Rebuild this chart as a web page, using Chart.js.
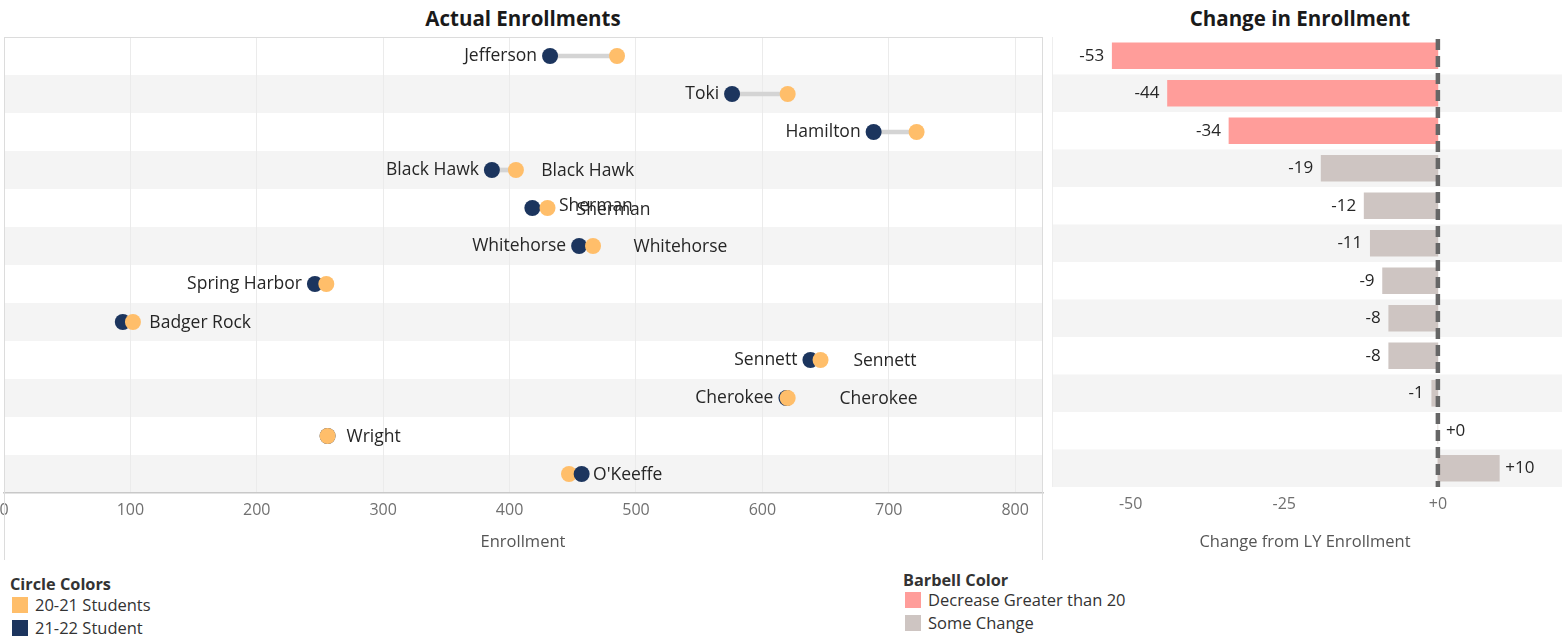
<!DOCTYPE html>
<html>
<head>
<meta charset="utf-8">
<script src="https://cdn.jsdelivr.net/npm/chart.js@4.4.1/dist/chart.umd.min.js"></script>
<style>
	body { margin: 0; background: #fff; font-family: 'Open Sans', sans-serif; color: #262626; }
	#wrap { position: relative; width: 1562px; height: 639px; overflow: hidden; }
	canvas { position: absolute; }
	.txt { position: absolute; white-space: nowrap; line-height: 1; transform: translateY(-50%); }
	.ctr { transform: translate(-50%, -50%); }
	.title { font-weight: bold; font-size: 20.5px; color: #1a1a1a; }
	.axis { font-size: 16.5px; color: #555; }
	.lg-title { font-weight: bold; font-size: 16.3px; color: #333; }
	.lg-item { font-size: 16.5px; color: #333; }
	.sw { position: absolute; width: 16px; height: 16px; }
	#frame { position: absolute; left: 4px; top: 37px; width: 1039px; height: 523px;
		border: 1.5px solid #dcdcdc; border-bottom: none; box-sizing: border-box; pointer-events: none; }
</style>
</head>
<body>
<div id="wrap">
	<div class="txt ctr title" style="left:523px;top:18px">Actual Enrollments</div>
	<div class="txt ctr title" style="left:1300px;top:18px">Change in Enrollment</div>

	<canvas id="dumbbell" width="1055" height="531" style="left:-4px;top:29px"></canvas>
	<div id="frame"></div>
	<canvas id="change" width="517" height="523" style="left:1045px;top:37px"></canvas>

	<div class="txt ctr axis" style="left:523px;top:541px">Enrollment</div>
	<div class="txt ctr axis" style="left:1305px;top:541px">Change from LY Enrollment</div>

	<div class="txt lg-title" style="left:10px;top:584px">Circle Colors</div>
	<div class="sw" style="left:12px;top:597px;background:#FFBE6A"></div>
	<div class="txt lg-item" style="left:35px;top:605px">20-21 Students</div>
	<div class="sw" style="left:12px;top:620px;background:#1C355E"></div>
	<div class="txt lg-item" style="left:35px;top:628px">21-22 Student</div>

	<div class="txt lg-title" style="left:903px;top:580px">Barbell Color</div>
	<div class="sw" style="left:905px;top:592px;background:#FF9D9A"></div>
	<div class="txt lg-item" style="left:928px;top:600px">Decrease Greater than 20</div>
	<div class="sw" style="left:905px;top:615px;background:#CEC5C2"></div>
	<div class="txt lg-item" style="left:928px;top:623px">Some Change</div>
</div>

<script>
const schools = [ 'Jefferson', 'Toki', 'Hamilton', 'Black Hawk', 'Sherman', 'Whitehorse',
	'Spring Harbor', 'Badger Rock', 'Sennett', 'Cherokee', 'Wright', "O'Keeffe" ];
const students2021 = [ 485, 620, 722, 405, 430, 466, 255, 102, 646, 620, 256, 447 ];
const students2122 = [ 432, 576, 688, 386, 418, 455, 246, 94, 638, 619, 256, 457 ];
const changeFromLY = [ -53, -44, -34, -19, -12, -11, -9, -8, -8, -1, 0, 10 ];

// Tableau put the school name left of the pair on some rows and a second copy further right
const nameOnLeft = [ true, true, true, true, false, true, true, false, true, true, false, false ];
const extraNameAt = [ [], [], [], [ 425 ], [ 439, 453 ], [ 498 ], [], [ 115 ], [ 672 ], [ 661 ], [ 271 ], [ 466 ] ];

const enrollTicks = [ 0, 100, 200, 300, 400, 500, 600, 700, 800 ];
const changeTicks = [ -50, -25, 0 ];

const ORANGE = '#FFBE6A';
const NAVY = '#1C355E';
const RED = '#FF9D9A';
const GREY = '#CEC5C2';
const BAND = '#F4F4F4';
const FONT = "'Open Sans', sans-serif";

Chart.defaults.font.family = FONT;
Chart.defaults.animation = false;

const rowBands = {
	id: 'rowBands',
	beforeDraw( chart ) {
		const { ctx, chartArea, scales } = chart;
		const y = scales.y;
		const half = ( chartArea.bottom - chartArea.top ) / schools.length / 2;
		ctx.save();
		ctx.fillStyle = BAND;
		schools.forEach( ( s, i ) => {
			if ( i % 2 === 1 ) {
				const cy = y.getPixelForValue( i );
				ctx.fillRect( chartArea.left, cy - half, chartArea.right - chartArea.left, half * 2 );
			}
		} );
		ctx.restore();
	},
};

const radius = 8;

const nameLabels = {
	id: 'nameLabels',
	afterDatasetsDraw( chart ) {
		const { ctx, scales } = chart;
		ctx.save();
		ctx.font = '17.5px ' + FONT;
		ctx.fillStyle = '#262626';
		ctx.textBaseline = 'middle';
		schools.forEach( ( name, i ) => {
			const cy = scales.y.getPixelForValue( i );
			if ( nameOnLeft[ i ] ) {
				const lo = Math.min( students2021[ i ], students2122[ i ] );
				ctx.textAlign = 'right';
				ctx.fillText( name, scales.x.getPixelForValue( lo ) - radius - 5, cy );
			}
			const twin = extraNameAt[ i ].length > 1;
			extraNameAt[ i ].forEach( ( v, k ) => {
				ctx.textAlign = 'left';
				const dy = twin ? ( k === 0 ? -2 : 2 ) : 1;
				ctx.fillText( name, scales.x.getPixelForValue( v ), cy + dy );
			} );
		} );
		ctx.restore();
	},
};

new Chart( document.getElementById( 'dumbbell' ), {
	type: 'bar',
	data: {
		labels: schools,
		datasets: [
			{
				data: schools.map( ( s, i ) => [ students2122[ i ], students2021[ i ] ] ),
				backgroundColor: '#D4D4D4',
				barThickness: 4,
				order: 4,
			},
			{
				type: 'line',
				indexAxis: 'y',
				showLine: false,
				data: students2122.map( ( v, i ) => ( v <= students2021[ i ] ? v : null ) ),
				pointRadius: radius,
				pointBackgroundColor: NAVY,
				pointBorderWidth: 0,
				order: 3,
			},
			{
				type: 'line',
				indexAxis: 'y',
				showLine: false,
				data: students2021,
				pointRadius: radius,
				pointBackgroundColor: ORANGE,
				pointBorderWidth: 0,
				order: 2,
			},
			{
				type: 'line',
				indexAxis: 'y',
				showLine: false,
				data: students2122.map( ( v, i ) => ( v > students2021[ i ] ? v : null ) ),
				pointRadius: radius,
				pointBackgroundColor: NAVY,
				pointBorderWidth: 0,
				order: 1,
			},
		],
	},
	options: {
		indexAxis: 'y',
		responsive: false,
		layout: { padding: { top: 8, left: 8, right: 8, bottom: 0 } },
		plugins: { legend: { display: false }, tooltip: { enabled: false } },
		scales: {
			y: { display: false },
			x: {
				min: 0,
				max: 822,
				afterBuildTicks: ( axis ) => {
					axis.ticks = enrollTicks.map( ( v ) => ( { value: v } ) );
				},
				afterFit: ( axis ) => {
					axis.height = 67;
					axis.paddingLeft = 0;
					axis.paddingRight = 0;
				},
				grid: { color: '#EBEBEB', drawTicks: false },
				border: { color: '#C8C8C8', width: 1.5 },
				ticks: { color: '#707070', font: { size: 16 }, padding: 8, maxRotation: 0 },
			},
		},
	},
	plugins: [ rowBands, nameLabels ],
} );

const zeroLine = {
	id: 'zeroLine',
	afterDatasetsDraw( chart ) {
		const { ctx, chartArea, scales } = chart;
		const x = scales.x.getPixelForValue( 0 );
		ctx.save();
		ctx.strokeStyle = '#666';
		ctx.lineWidth = 4.5;
		ctx.setLineDash( [ 11, 6 ] );
		ctx.beginPath();
		ctx.moveTo( x, chartArea.top + 2 );
		ctx.lineTo( x, chartArea.bottom );
		ctx.stroke();
		ctx.restore();
	},
};

const changeLabels = {
	id: 'changeLabels',
	afterDatasetsDraw( chart ) {
		const { ctx, scales } = chart;
		ctx.save();
		ctx.font = '17px ' + FONT;
		ctx.fillStyle = '#262626';
		ctx.textBaseline = 'middle';
		changeFromLY.forEach( ( v, i ) => {
			const cy = scales.y.getPixelForValue( i );
			const end = scales.x.getPixelForValue( v );
			if ( v < 0 ) {
				ctx.textAlign = 'right';
				ctx.fillText( String( v ), end - 8, cy );
			} else {
				ctx.textAlign = 'left';
				ctx.fillText( '+' + v, end + ( v === 0 ? 8 : 6 ), cy );
			}
		} );
		ctx.restore();
	},
};

const leftEdge = {
	id: 'leftEdge',
	beforeDraw( chart ) {
		const { ctx, chartArea } = chart;
		ctx.save();
		ctx.strokeStyle = '#EEEEEE';
		ctx.lineWidth = 1;
		ctx.beginPath();
		ctx.moveTo( chartArea.left + 0.5, chartArea.top );
		ctx.lineTo( chartArea.left + 0.5, chartArea.bottom );
		ctx.stroke();
		ctx.restore();
	},
};

new Chart( document.getElementById( 'change' ), {
	type: 'bar',
	data: {
		labels: schools,
		datasets: [
			{
				data: changeFromLY,
				backgroundColor: changeFromLY.map( ( v ) => ( v < -20 ? RED : GREY ) ),
				barThickness: 26,
			},
		],
	},
	options: {
		indexAxis: 'y',
		responsive: false,
		layout: { padding: { left: 7, right: 0, top: 0, bottom: 0 } },
		plugins: { legend: { display: false }, tooltip: { enabled: false } },
		scales: {
			y: { display: false },
			x: {
				min: -62.8,
				max: 20.2,
				afterBuildTicks: ( axis ) => {
					axis.ticks = changeTicks.map( ( v ) => ( { value: v } ) );
				},
				afterFit: ( axis ) => {
					axis.height = 73;
					axis.paddingLeft = 0;
					axis.paddingRight = 0;
				},
				grid: { display: false, drawTicks: false },
				border: { display: false },
				ticks: {
					color: '#707070',
					font: { size: 16 },
					padding: 8,
					maxRotation: 0,
					callback: ( v ) => ( v >= 0 ? '+' + v : String( v ) ),
				},
			},
		},
	},
	plugins: [ rowBands, leftEdge, zeroLine, changeLabels ],
} );
</script>
</body>
</html>
